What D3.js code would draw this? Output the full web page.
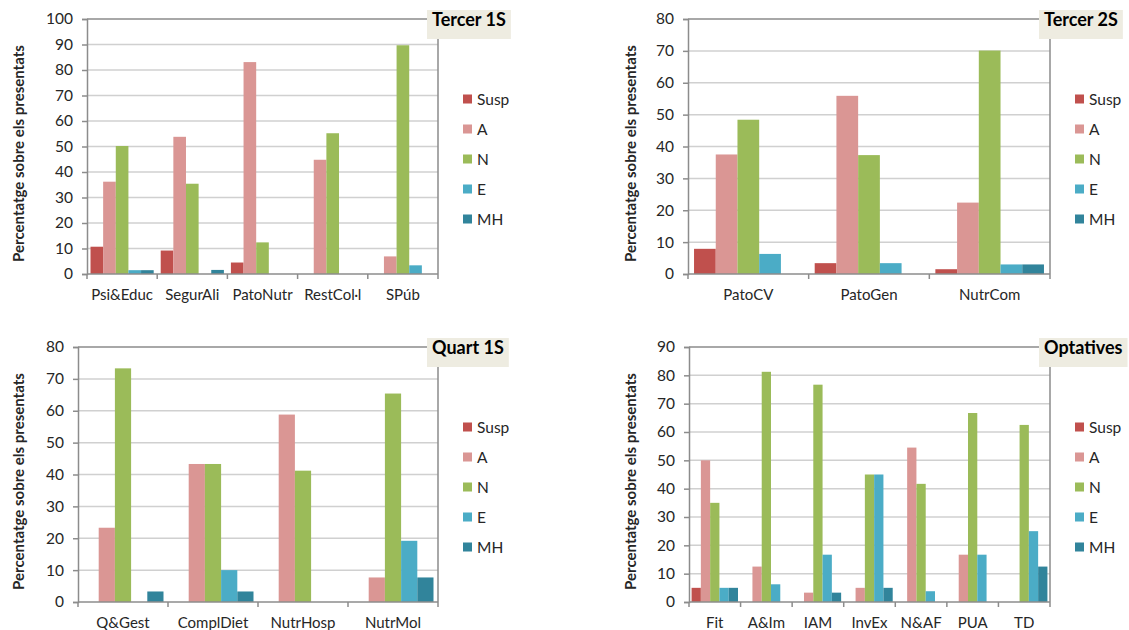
<!DOCTYPE html>
<html>
<head>
<meta charset="utf-8">
<script src="https://cdn.jsdelivr.net/npm/d3@7"></script>
<style>
  html, body { margin: 0; padding: 0; background: #fff; }
  svg { display: block; font-family: Lato, "Open Sans", sans-serif; }
</style>
</head>
<body>
<svg id="chart" width="1129" height="630"></svg>
<script>
// Grade distribution series (percent of students who sat the exam)
const seriesNames = ["Susp", "A", "N", "E", "MH"];
const seriesColors = ["#c0504d", "#da9694", "#9bbb59", "#4bacc6", "#31849b"];

// Tercer 1S
const tercer1SCategories = ["Psi&Educ", "SegurAli", "PatoNutr", "RestCol·l", "SPúb"];
const tercer1SSusp = [10.7, 9.2, 4.5, 0, 0];
const tercer1SA    = [36.2, 53.8, 83.1, 44.8, 6.9];
const tercer1SN    = [50.2, 35.4, 12.4, 55.2, 89.7];
const tercer1SE    = [1.5, 0, 0, 0, 3.4];
const tercer1SMH   = [1.5, 1.6, 0, 0, 0];

// Tercer 2S
const tercer2SCategories = ["PatoCV", "PatoGen", "NutrCom"];
const tercer2SSusp = [7.9, 3.4, 1.5];
const tercer2SA    = [37.5, 55.9, 22.4];
const tercer2SN    = [48.4, 37.3, 70.1];
const tercer2SE    = [6.3, 3.4, 3.0];
const tercer2SMH   = [0, 0, 3.0];

// Quart 1S
const quart1SCategories = ["Q&Gest", "ComplDiet", "NutrHosp", "NutrMol"];
const quart1SSusp = [0, 0, 0, 0];
const quart1SA    = [23.3, 43.3, 58.8, 7.7];
const quart1SN    = [73.3, 43.3, 41.2, 65.4];
const quart1SE    = [0, 10.0, 0, 19.2];
const quart1SMH   = [3.3, 3.3, 0, 7.7];

// Optatives
const optativesCategories = ["Fit", "A&Im", "IAM", "InvEx", "N&AF", "PUA", "TD"];
const optativesSusp = [5, 0, 0, 0, 0, 0, 0];
const optativesA    = [50, 12.5, 3.3, 5, 54.5, 16.7, 0];
const optativesN    = [35, 81.25, 76.7, 45, 41.7, 66.7, 62.5];
const optativesE    = [5, 6.25, 16.7, 45, 3.8, 16.7, 25];
const optativesMH   = [5, 0, 3.3, 5, 0, 0, 12.5];

// Y axis maxima and tick steps
const tercer1SYMax = 100, tercer2SYMax = 80, quart1SYMax = 80, optativesYMax = 90;
const yTickStep = 10;

const yTitle = "Percentatge sobre els presentats";

const panels = [
  { title: "Tercer 1S", cats: tercer1SCategories,
    values: [tercer1SSusp, tercer1SA, tercer1SN, tercer1SE, tercer1SMH],
    yMax: tercer1SYMax, box: { l: 87, t: 19, r: 438, b: 274 }, titleX: 18 },
  { title: "Tercer 2S", cats: tercer2SCategories,
    values: [tercer2SSusp, tercer2SA, tercer2SN, tercer2SE, tercer2SMH],
    yMax: tercer2SYMax, box: { l: 688, t: 19, r: 1050, b: 274 }, titleX: 630 },
  { title: "Quart 1S", cats: quart1SCategories,
    values: [quart1SSusp, quart1SA, quart1SN, quart1SE, quart1SMH],
    yMax: quart1SYMax, box: { l: 78, t: 347, r: 438, b: 602 }, titleX: 18 },
  { title: "Optatives", cats: optativesCategories,
    values: [optativesSusp, optativesA, optativesN, optativesE, optativesMH],
    yMax: optativesYMax, box: { l: 689, t: 347, r: 1050, b: 602 }, titleX: 630 }
];

const svg = d3.select("#chart");
const axisColor = "#8c8c8c";
const gridColor = "#d0d0d0";
const textColor = "#262626";

panels.forEach(p => {
  const g = svg.append("g");
  const { l, t, r, b } = p.box;

  const x = d3.scaleBand().domain(p.cats).range([l, r]).paddingInner(0).paddingOuter(0);
  const bw = x.bandwidth();
  const xs = d3.scaleBand().domain(seriesNames).range([bw * 0.05, bw * 0.95]);
  const y = d3.scaleLinear().domain([0, p.yMax]).range([b, t]);
  const ticks = d3.range(0, p.yMax + yTickStep / 2, yTickStep);

  // horizontal gridlines
  g.append("g").selectAll("line")
    .data(ticks.filter(v => v > 0 && v < p.yMax))
    .join("line")
    .attr("x1", l).attr("x2", r)
    .attr("y1", d => y(d)).attr("y2", d => y(d))
    .attr("stroke", gridColor).attr("stroke-width", 1.5);

  // plot area outline (top and right)
  g.append("path")
    .attr("d", `M${l},${y(p.yMax)}H${r}V${b}`)
    .attr("fill", "none").attr("stroke", axisColor).attr("stroke-width", 1.5);

  // bars
  const rows = [];
  p.cats.forEach((c, i) => seriesNames.forEach((s, k) => rows.push({ c, s, k, v: p.values[k][i] })));
  g.append("g").selectAll("rect")
    .data(rows.filter(d => d.v > 0))
    .join("rect")
    .attr("x", d => x(d.c) + xs(d.s))
    .attr("width", xs.bandwidth())
    .attr("y", d => y(d.v))
    .attr("height", d => y(0) - y(d.v))
    .attr("fill", d => seriesColors[d.k]);

  // y axis
  const yAxis = g.append("g")
    .attr("transform", `translate(${l},0)`)
    .call(d3.axisLeft(y).tickValues(ticks).tickSize(5).tickPadding(9));
  yAxis.select(".domain").attr("stroke", axisColor).attr("stroke-width", 1.5);
  yAxis.selectAll(".tick line").attr("stroke", axisColor).attr("stroke-width", 1.5);
  yAxis.selectAll(".tick text").attr("fill", textColor)
    .style("font-size", "15.5px").style("font-family", "Lato, sans-serif");

  // x axis: category labels at band centres, tick marks at band edges
  const xAxis = g.append("g")
    .attr("transform", `translate(0,${b})`)
    .call(d3.axisBottom(x).tickSize(0).tickPadding(15));
  xAxis.select(".domain").remove();
  xAxis.selectAll(".tick text").attr("fill", textColor)
    .style("font-size", "15px").style("font-family", "Lato, sans-serif");
  g.append("line").attr("x1", l).attr("x2", r).attr("y1", b).attr("y2", b)
    .attr("stroke", axisColor).attr("stroke-width", 1.5);
  const edges = p.cats.map(c => x(c)).concat([r]);
  g.append("g").selectAll("line")
    .data(edges)
    .join("line")
    .attr("x1", d => d).attr("x2", d => d)
    .attr("y1", b).attr("y2", b + 5)
    .attr("stroke", axisColor).attr("stroke-width", 1.5);

  // y axis title
  g.append("text")
    .attr("transform", `translate(${p.titleX},${(t + b) / 2 + 7}) rotate(-90)`)
    .attr("text-anchor", "middle").attr("dominant-baseline", "central")
    .attr("fill", textColor)
    .style("font-size", "15px").style("font-weight", "bold")
    .text(yTitle);

  // chart title box
  const tg = g.append("g");
  const tt = tg.append("text")
    .attr("y", t + 6.5)
    .attr("fill", "#000")
    .style("font-size", "18px").style("font-weight", "bold")
    .text(p.title);
  const tw = tt.node().getComputedTextLength();
  const bx = r - 11;
  tg.insert("rect", "text")
    .attr("x", bx).attr("y", t - 9)
    .attr("width", tw + 10).attr("height", 29)
    .attr("fill", "#eeece1");
  tt.attr("x", bx + 5);

  // legend
  const lg = g.append("g").attr("transform", `translate(${r + 25},${t + 80})`);
  const items = lg.selectAll("g").data(seriesNames).join("g")
    .attr("transform", (d, i) => `translate(0,${i * 30})`);
  items.append("rect").attr("x", 0).attr("y", -4.5).attr("width", 9).attr("height", 9)
    .attr("fill", (d, i) => seriesColors[i]);
  items.append("text").attr("x", 14).attr("y", 0).attr("dominant-baseline", "central")
    .attr("fill", textColor).style("font-size", "15.5px").text(d => d);
});
</script>
</body>
</html>
